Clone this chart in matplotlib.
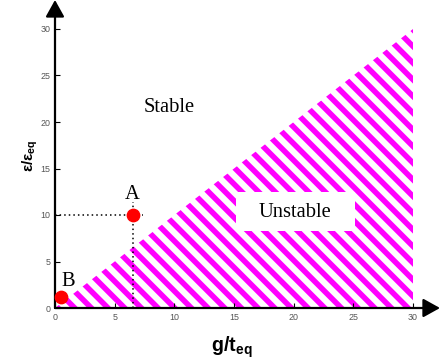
import matplotlib
matplotlib.use("Agg")
import matplotlib.pyplot as plt

# stability boundary eps/eps_eq = g/t_eq
boundary_x = [0, 30]
boundary_y = [0, 30]

point_names = ["A", "B"]
point_x = [6.5, 0.5]
point_y = [10.0, 1.2]

ticks = [0, 5, 10, 15, 20, 25, 30]

plt.rcParams['hatch.linewidth'] = 4.0
plt.rcParams['mathtext.fontset'] = 'custom'
plt.rcParams['mathtext.rm'] = 'Liberation Sans:bold'
plt.rcParams['mathtext.it'] = 'Liberation Sans:bold'
plt.rcParams['mathtext.bf'] = 'Liberation Sans:bold'

fig = plt.figure(figsize=(4.4, 3.64), dpi=100)
ax = fig.add_axes([55 / 440, 56 / 364, 358 / 440, 279 / 364])
ax.set_xlim(0, 30)
ax.set_ylim(0, 30)

# unstable region
ax.fill_between(boundary_x, 0, boundary_y, facecolor='white',
                edgecolor='#ff00ff', hatch='\\\\', linewidth=0)

# white box behind the "Unstable" label
ax.add_patch(plt.Rectangle((15.2, 8.3), 9.9, 4.2, facecolor='white',
                           edgecolor='none', zorder=3))
ax.text(20.1, 10.3, "Unstable", family='Liberation Serif', fontsize=14.8,
        ha='center', va='center', zorder=4)
ax.text(9.6, 21.6, "Stable", family='Liberation Serif', fontsize=14.8,
        ha='center', va='center')

# guide lines to point A
ax.plot([0, point_x[0] + 0.9], [point_y[0], point_y[0]], color='k',
        linestyle=(0, (1, 2)), lw=1.1)
ax.plot([point_x[0], point_x[0]], [0, point_y[0] + 1.4], color='k',
        linestyle=(0, (1, 2)), lw=1.1)

ax.plot(point_x, point_y, 'o', color='#ff0000', markersize=8.9,
        zorder=5, clip_on=False)
ax.text(point_x[0], point_y[0] + 2.2, point_names[0],
        family='Liberation Serif', fontsize=14.8, ha='center', va='center')
ax.text(point_x[1] + 0.6, point_y[1] + 1.7, point_names[1],
        family='Liberation Serif', fontsize=14.8, ha='center', va='center')

for s in ax.spines.values():
    s.set_visible(False)

arrow = dict(arrowstyle='-|>,head_length=0.45,head_width=0.25', color='k',
             lw=1.6, shrinkA=0, shrinkB=0, mutation_scale=22.8)
ax.annotate('', xy=(1.0754, 0), xytext=(0, 0), xycoords='axes fraction',
            arrowprops=arrow, annotation_clip=False)
ax.annotate('', xy=(0, 1.104), xytext=(0, 0), xycoords='axes fraction',
            arrowprops=arrow, annotation_clip=False)

ax.set_xticks(ticks)
ax.set_yticks(ticks)
ax.tick_params(direction='in', length=3.6, width=0.8, labelsize=6.4,
               labelcolor='#555555', pad=3.4)
for lab in ax.get_xticklabels() + ax.get_yticklabels():
    lab.set_family('Liberation Sans')

ax.set_xlabel(r'$\mathrm{g/t_{eq}}$', fontsize=14.2)
ax.set_ylabel(r'$\mathrm{ε/ε_{eq}}$', fontsize=11)
ax.xaxis.set_label_coords(0.494, -0.095)
ax.yaxis.set_label_coords(-0.042, 0.545)

fig.savefig("out.png", dpi=100)
